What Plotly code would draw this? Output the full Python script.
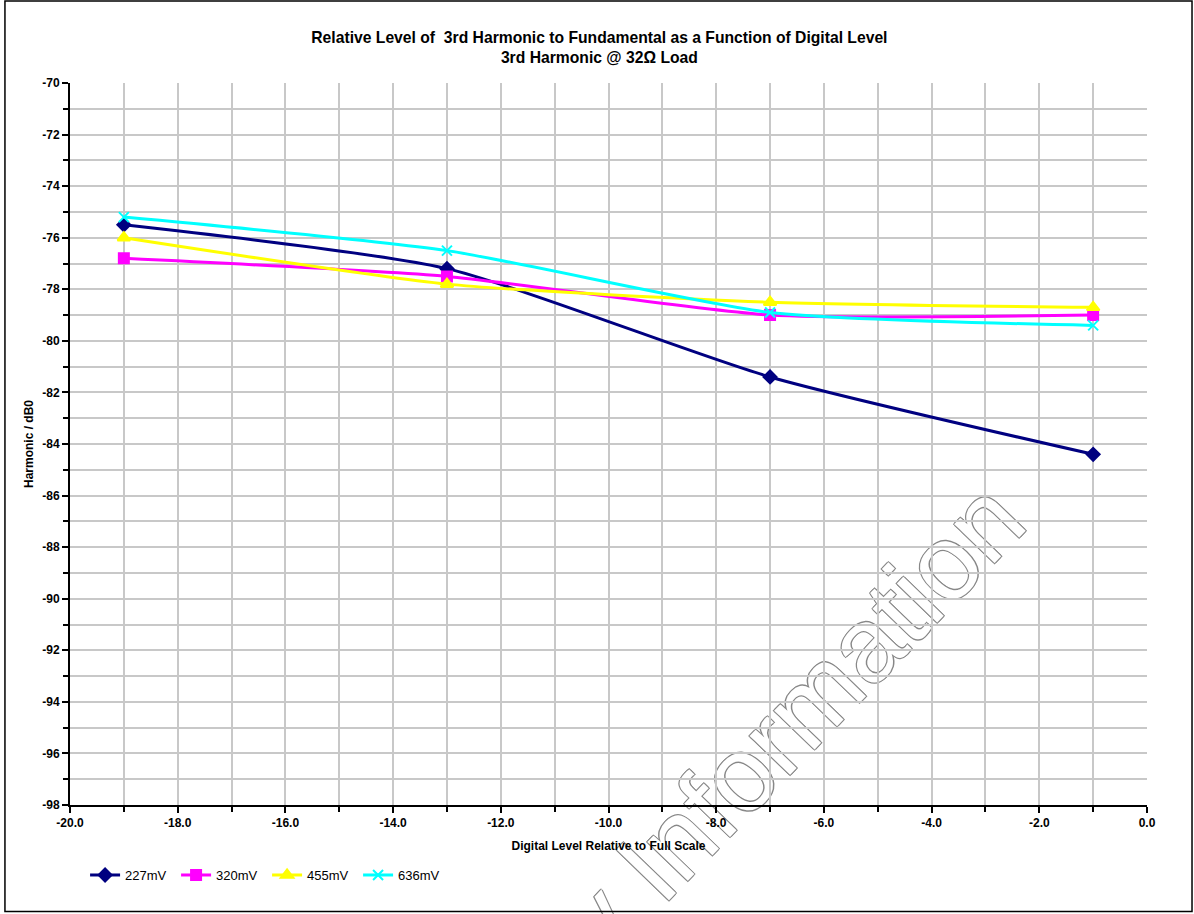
import plotly.graph_objects as go

FONT = "Arial, Liberation Sans, sans-serif"
GRID = "#c8c8c8"

levels = [-19, -13, -7, -1]
mv_227 = [-75.5, -77.2, -81.4, -84.4]
mv_320 = [-76.8, -77.5, -79.0, -79.0]
mv_455 = [-76.0, -77.8, -78.5, -78.7]
mv_636 = [-75.2, -76.5, -78.9, -79.4]

x_ticks = [-20, -18, -16, -14, -12, -10, -8, -6, -4, -2, 0]
x_labels = ["-20.0", "-18.0", "-16.0", "-14.0", "-12.0", "-10.0", "-8.0", "-6.0", "-4.0", "-2.0", "0.0"]
y_ticks = [-98, -96, -94, -92, -90, -88, -86, -84, -82, -80, -78, -76, -74, -72, -70]
y_labels = ["-98", "-96", "-94", "-92", "-90", "-88", "-86", "-84", "-82", "-80", "-78", "-76", "-74", "-72", "-70"]

series = [
    ("227mV", mv_227, "#000080", "diamond", 10),
    ("320mV", mv_320, "#ff00ff", "square", 10),
    ("455mV", mv_455, "#ffff00", "triangle-up", 11),
    ("636mV", mv_636, "#00ffff", "x-thin", 10),
]

fig = go.Figure()
for name, vals, col, sym, sz in series:
    fig.add_trace(go.Scatter(
        x=levels, y=vals, name=name, mode="lines+markers",
        line=dict(color=col, width=3, shape="spline", smoothing=0.6),
        marker=dict(symbol=sym, size=sz, color=col, line=dict(color=col, width=2)),
    ))

# chart area border
fig.add_shape(type="rect", xref="paper", yref="paper",
              x0=-0.0604, x1=1.0418, y0=-0.1475, y1=1.1136,
              line=dict(color="black", width=1.5), layer="above")

# watermark, hollow text drawn under the grid
fig.add_shape(type="rect", xref="paper", yref="paper",
              x0=0.508, x1=0.510, y0=-0.112, y1=-0.110,
              line=dict(width=0), layer="below",
              label=dict(text="Preliminary Information", textangle=-46,
                         textposition="middle center",
                         font=dict(family="Liberation Sans, Arial", size=106, color="white",
                                   shadow="1px 1px 0 #888, -1px -1px 0 #888, 1px -1px 0 #888, -1px 1px 0 #888")))

tickfont = dict(size=12, weight="bold")
fig.update_layout(
    width=1194, height=914,
    paper_bgcolor="white", plot_bgcolor="white",
    font=dict(family=FONT, color="black"),
    margin=dict(l=70, r=47, t=83, b=109),
    title=dict(text="<b>Relative Level of  3rd Harmonic to Fundamental as a Function of Digital Level<br>3rd Harmonic @ 32Ω Load</b>",
               x=0.502, xanchor="center", y=0.953, yanchor="middle",
               font=dict(size=15.7)),
    showlegend=True,
    legend=dict(orientation="h", x=0.014, y=-0.097, xanchor="left", yanchor="middle",
                font=dict(size=13), itemwidth=30, entrywidth=46, bgcolor="rgba(0,0,0,0)"),
    xaxis=dict(
        range=[-20, 0], tickmode="array", tickvals=x_ticks, ticktext=x_labels,
        ticks="outside", ticklen=6, tickwidth=2, tickcolor="black",
        showline=True, linecolor="black", linewidth=2,
        showgrid=True, gridcolor=GRID, gridwidth=2, zeroline=False,
        minor=dict(tickmode="linear", tick0=0, dtick=1, ticks="outside", ticklen=5,
                   tickcolor="black", tickwidth=2, showgrid=True, gridcolor=GRID, gridwidth=2),
        tickfont=tickfont,
        title=dict(text="Digital Level Relative to Full Scale", font=dict(size=12, weight="bold"), standoff=12),
    ),
    yaxis=dict(
        range=[-98, -70], tickmode="array", tickvals=y_ticks, ticktext=y_labels,
        ticks="outside", ticklen=6, tickwidth=2, tickcolor="black",
        showline=True, linecolor="black", linewidth=2,
        showgrid=True, gridcolor=GRID, gridwidth=2, zeroline=False,
        minor=dict(tickmode="linear", tick0=0, dtick=1, ticks="outside", ticklen=5,
                   tickcolor="black", tickwidth=2, showgrid=True, gridcolor=GRID, gridwidth=2),
        tickfont=tickfont,
        title=dict(text="Harmonic / dB0", font=dict(size=12, weight="bold"), standoff=6),
    ),
)

fig.write_html("out.html", config={"displayModeBar": False},
               post_script="document.body.style.margin='0';")
